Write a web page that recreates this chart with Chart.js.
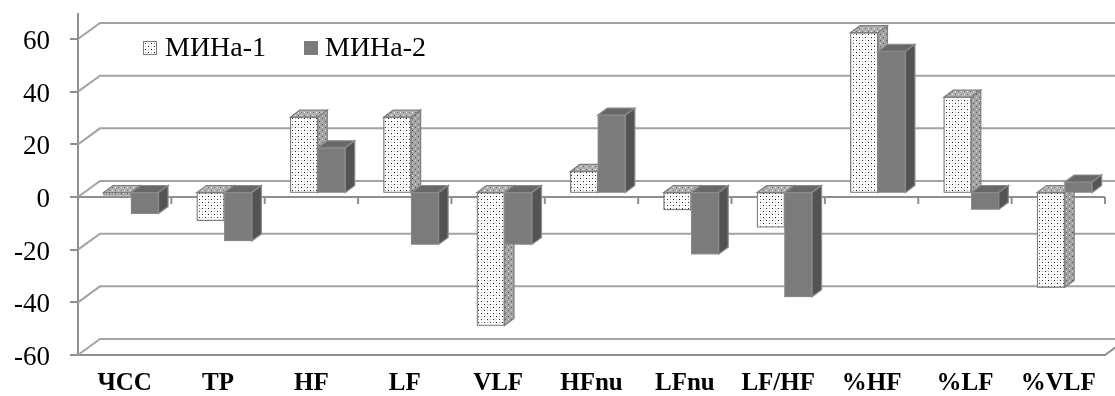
<!DOCTYPE html>
<html>
<head>
<meta charset="utf-8">
<script src="https://cdn.jsdelivr.net/npm/chart.js@4.4.1/dist/chart.umd.min.js"></script>
<style>
  html, body { margin: 0; padding: 0; background: #ffffff; }
  #wrap { width: 1115px; height: 396px; position: relative; }
</style>
</head>
<body>
<div id="wrap"><canvas id="chart" width="1115" height="396"></canvas></div>
<script>
// HRV indices: change for two groups
const categories = ['ЧСС', 'ТР', 'HF', 'LF', 'VLF', 'HFnu', 'LFnu', 'LF/HF', '%HF', '%LF', '%VLF'];
const mina1 = [-1, -10.7, 28.6, 28.6, -50.5, 8, -6.6, -13.2, 60.7, 36.2, -36];
const mina2 = [-8, -18.4, 17, -19.7, -19.7, 29.4, -23.4, -39.6, 53.6, -6.4, 4];
const seriesNames = ['МИНа-1', 'МИНа-2'];
const yTicks = [-60, -40, -20, 0, 20, 40, 60];

// pseudo-3D geometry (pixels)
const WALL_DX = 22, WALL_DY = 16;   // front plane -> back wall
const BAR_DX = 9.5, BAR_DY = 7;     // bar depth
const AXIS_EXT = 26;                // axis line above the top tick
// bar plane sits slightly behind the front plane (in axis units)
const BAR_SHIFT_X = 0.068;
const BAR_SHIFT_Y = 1.7;

const GRID = '#a3a3a3';
const AXIS = '#8f8f8f';
const SERIF = "'Liberation Serif', 'Times New Roman', serif";

function dotPattern(bg, dot, dot2) {
  const c = document.createElement('canvas');
  c.width = 6; c.height = 6;
  const g = c.getContext('2d');
  g.fillStyle = bg; g.fillRect(0, 0, 6, 6);
  g.fillStyle = dot;
  g.fillRect(1, 1, 1, 1);
  g.fillRect(4, 4, 1, 1);
  if (dot2) {
    g.fillStyle = dot2;
    g.fillRect(4, 1, 1, 1);
    g.fillRect(1, 4, 1, 1);
  }
  return g.createPattern(c, 'repeat');
}

const ctx0 = document.getElementById('chart').getContext('2d');
const frontDots = dotPattern('#ffffff', '#1e1e1e', '#b4b4b4');
const sideDots = dotPattern('#a4a4a4', '#4e4e4e', '#dcdcdc');
const topDots = dotPattern('#b0b0b0', '#f4f4f4', '#646464');

const faceStyles = [
  { front: frontDots, top: topDots, side: sideDots, border: '#7d7d7d' },
  { front: '#7b7b7b', top: '#686868', side: '#535353', border: '#8c8c8c' }
];

function drawFaces(ctx, bar, st) {
  const p = bar.getProps(['x', 'y', 'base', 'width'], true);
  const l = p.x - p.width / 2, r = p.x + p.width / 2;
  const t = Math.min(p.y, p.base), b = Math.max(p.y, p.base);
  ctx.lineWidth = 1.2;
  ctx.strokeStyle = st.border;
  // top face
  ctx.beginPath();
  ctx.moveTo(l, t);
  ctx.lineTo(l + BAR_DX, t - BAR_DY);
  ctx.lineTo(r + BAR_DX, t - BAR_DY);
  ctx.lineTo(r, t);
  ctx.closePath();
  ctx.fillStyle = st.top;
  ctx.fill();
  ctx.stroke();
  // side face
  ctx.beginPath();
  ctx.moveTo(r, t);
  ctx.lineTo(r + BAR_DX, t - BAR_DY);
  ctx.lineTo(r + BAR_DX, b - BAR_DY);
  ctx.lineTo(r, b);
  ctx.closePath();
  ctx.fillStyle = st.side;
  ctx.fill();
  ctx.stroke();
}

const frame3d = {
  id: 'frame3d',
  beforeDatasetsDraw(chart) {
    const { ctx, chartArea } = chart;
    const y = chart.scales.y, x = chart.scales.x;
    const L = chartArea.left, R = chartArea.right;
    ctx.save();
    ctx.lineWidth = 2;
    ctx.strokeStyle = GRID;
    // side wall diagonals and back wall gridlines
    yTicks.forEach(v => {
      const fy = y.getPixelForValue(v);
      ctx.beginPath();
      ctx.moveTo(L, fy);
      ctx.lineTo(L + WALL_DX, fy - WALL_DY);
      ctx.lineTo(chart.width + 5, fy - WALL_DY);
      ctx.stroke();
    });
    // right edge of the floor
    const fb = y.getPixelForValue(-60);
    ctx.strokeStyle = AXIS;
    ctx.beginPath();
    ctx.moveTo(R, fb);
    ctx.lineTo(R + WALL_DX, fb - WALL_DY);
    ctx.stroke();
    // axis line above the top tick
    ctx.beginPath();
    ctx.moveTo(L, y.getPixelForValue(60) - AXIS_EXT);
    ctx.lineTo(L, y.getPixelForValue(60));
    ctx.stroke();
    // zero line with category tick marks
    const y0 = y.getPixelForValue(0);
    ctx.beginPath();
    ctx.moveTo(L, y0);
    ctx.lineTo(R, y0);
    for (let i = 0; i <= categories.length; i++) {
      const px = x.getPixelForValue(i - 0.5);
      ctx.moveTo(px, y0);
      ctx.lineTo(px, y0 + 7);
    }
    ctx.stroke();
    ctx.restore();
  },
  afterDatasetsDraw(chart) {
    // repaint series left to right so each box hides the one behind it
    const { ctx } = chart;
    ctx.save();
    chart.data.datasets.forEach((ds, i) => {
      const meta = chart.getDatasetMeta(i);
      meta.data.forEach(bar => {
        bar.draw(ctx);
        drawFaces(ctx, bar, faceStyles[i]);
      });
    });
    ctx.restore();
  },
  afterDraw(chart) {
    // legend
    const { ctx } = chart;
    const spots = [{ box: 143, text: 165 }, { box: 304, text: 325 }];
    ctx.save();
    ctx.font = '28px ' + SERIF;
    ctx.textBaseline = 'alphabetic';
    chart.data.datasets.forEach((ds, i) => {
      const s = spots[i];
      ctx.fillStyle = ds.legendFill;
      ctx.fillRect(s.box, 41, 14, 14);
      ctx.lineWidth = 1;
      ctx.strokeStyle = '#7d7d7d';
      ctx.strokeRect(s.box + 0.5, 41.5, 13, 13);
      ctx.fillStyle = '#000';
      ctx.fillText(ds.label, s.text, 56);
    });
    ctx.restore();
  }
};

const toPoints = arr => arr.map((v, i) => ({ x: i, y: v }));

new Chart(ctx0, {
  type: 'bar',
  data: {
    labels: categories,
    datasets: [
      {
        label: seriesNames[0], data: toPoints(mina1), xAxisID: 'xBar', yAxisID: 'yBar',
        backgroundColor: frontDots, borderColor: faceStyles[0].border, borderWidth: 1.2,
        borderSkipped: false, barThickness: 27.5, legendFill: frontDots
      },
      {
        label: seriesNames[1], data: toPoints(mina2), xAxisID: 'xBar', yAxisID: 'yBar',
        backgroundColor: faceStyles[1].front, borderColor: faceStyles[1].border, borderWidth: 1,
        borderSkipped: false, barThickness: 27.5, legendFill: '#7b7b7b'
      }
    ]
  },
  options: {
    responsive: false,
    devicePixelRatio: 1,
    animation: false,
    layout: { padding: { top: 39, right: 10, left: 0, bottom: 0 } },
    plugins: { legend: { display: false }, tooltip: { enabled: false } },
    scales: {
      x: {
        type: 'category', labels: categories, offset: true, position: 'bottom',
        grid: { display: false, drawTicks: false },
        border: { display: true, color: AXIS, width: 2 },
        ticks: { font: { family: SERIF, size: 25, weight: 'bold' }, color: '#000', padding: 14, maxRotation: 0, autoSkip: false },
        afterFit(s) { s.height = 41; }
      },
      y: {
        type: 'linear', position: 'left', min: -60, max: 60,
        afterBuildTicks(s) { s.ticks = yTicks.map(v => ({ value: v })); },
        grid: { drawOnChartArea: false, drawTicks: true, tickLength: 8, color: AXIS, lineWidth: 2 },
        border: { display: true, color: AXIS, width: 2 },
        ticks: { font: { family: SERIF, size: 27 }, color: '#000', padding: 20, labelOffset: 3 },
        afterFit(s) { s.width = 78; }
      },
      xBar: {
        type: 'linear', display: false, offset: false,
        min: -0.5 - BAR_SHIFT_X, max: categories.length - 0.5 - BAR_SHIFT_X
      },
      yBar: {
        type: 'linear', display: false,
        min: -60 - BAR_SHIFT_Y, max: 60 - BAR_SHIFT_Y
      }
    }
  },
  plugins: [frame3d]
});
</script>
</body>
</html>
